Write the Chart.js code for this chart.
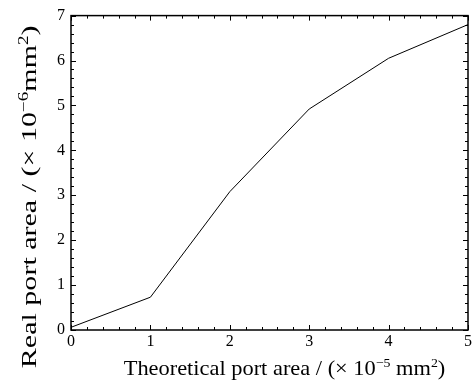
<!DOCTYPE html>
<html>
<head>
<meta charset="utf-8">
<script src="https://cdn.jsdelivr.net/npm/chart.js@4"></script>
<style>
  html, body { margin: 0; padding: 0; background: #fff; }
  #wrap { width: 475px; height: 388px; }
</style>
</head>
<body>
<div id="wrap"><canvas id="portChart" width="475" height="388"></canvas></div>
<script>
// data
const theoreticalArea = [0, 1, 2, 3, 4, 5];
const realArea = [0.06, 0.73, 3.08, 4.92, 6.05, 6.8];
const xTicks = [0, 1, 2, 3, 4, 5];
const yTicks = [0, 1, 2, 3, 4, 5, 6, 7];

// axis titles as [text, isSuperscript] pieces
const xTitle = [['Theoretical port area / (\u00d7 10', false], ['\u22125', true], [' mm', false], ['2', true], [')', false]];
const yTitle = [['Real port area / (\u00d7 10', false], ['\u22126', true], ['mm', false], ['2', true], [')', false]];

const serif = "'Liberation Serif', 'Times New Roman', serif";

// draw a title made of normal and superscript pieces
function drawPieces(c, pieces, size, startX, baseY) {
    let x = startX;
    pieces.forEach(p => {
        const fs = p[1] ? Math.round(size * 0.62) : size;
        c.font = fs + 'px ' + serif;
        c.fillText(p[0], x, p[1] ? baseY - size * 0.38 : baseY);
        x += c.measureText(p[0]).width;
    });
}
function piecesWidth(c, pieces, size) {
    let w = 0;
    pieces.forEach(p => {
        c.font = (p[1] ? Math.round(size * 0.62) : size) + 'px ' + serif;
        w += c.measureText(p[0]).width;
    });
    return w;
}

// inward ticks on all four sides, major every 1, minor every 0.2, plus titles
const boxTicks = {
    id: 'boxTicks',
    afterDraw(chart) {
        const c = chart.ctx;
        const a = chart.chartArea;
        const xs = chart.scales.x;
        const ys = chart.scales.y;
        c.save();
        c.strokeStyle = '#000';
        c.lineWidth = 1;
        c.beginPath();
        for (let i = 0; i <= 25; i++) {
            const v = i / 5;
            const len = (i % 5 === 0) ? 5 : 3;
            const px = Math.round(xs.getPixelForValue(v)) + 0.5;
            c.moveTo(px, a.bottom); c.lineTo(px, a.bottom - len);
            c.moveTo(px, a.top); c.lineTo(px, a.top + len);
        }
        for (let i = 0; i <= 35; i++) {
            const v = i / 5;
            const len = (i % 5 === 0) ? 5 : 3;
            const py = Math.round(ys.getPixelForValue(v)) + 0.5;
            c.moveTo(a.left, py); c.lineTo(a.left + len, py);
            c.moveTo(a.right, py); c.lineTo(a.right - len, py);
        }
        c.stroke();
        c.lineWidth = 1.5;
        c.strokeRect(a.left, a.top, a.right - a.left, a.bottom - a.top);

        // titles (the source figure is slightly stretched along the text)
        c.fillStyle = '#000';
        c.textAlign = 'left';
        c.textBaseline = 'alphabetic';

        const xsz = 21;
        const xw = piecesWidth(c, xTitle, xsz);
        const xLen = (a.right - a.left) * 0.81;
        const xc = (a.left + a.right) / 2 + 15;
        c.save();
        c.translate(xc, a.bottom + 45);
        c.scale(xLen / xw, 1);
        drawPieces(c, xTitle, xsz, -xw / 2, 0);
        c.restore();

        const ysz = 22;
        const yw = piecesWidth(c, yTitle, ysz);
        const yLen = (a.bottom - a.top) * 1.09;
        const yc = (a.top + a.bottom) / 2 + 24;
        c.translate(a.left - 35, yc);
        c.rotate(-Math.PI / 2);
        c.scale(yLen / yw, 1);
        drawPieces(c, yTitle, ysz, -yw / 2, 0);
        c.restore();
    }
};

const ctx = document.getElementById('portChart').getContext('2d');
new Chart(ctx, {
    type: 'line',
    data: {
        datasets: [{
            data: theoreticalArea.map((x, i) => ({ x: x, y: realArea[i] })),
            borderColor: '#000',
            borderWidth: 1,
            pointRadius: 0,
            fill: false,
            tension: 0
        }]
    },
    options: {
        responsive: false,
        animation: false,
        layout: { padding: { top: 14, right: 7, left: 0, bottom: 0 } },
        plugins: { legend: { display: false }, tooltip: { enabled: false } },
        scales: {
            x: {
                type: 'linear',
                min: 0, max: 5,
                afterBuildTicks: s => { s.ticks = xTicks.map(v => ({ value: v })); },
                afterFit: s => { s.height = 58; },
                grid: { drawOnChartArea: false, drawTicks: false },
                border: { display: false },
                ticks: { color: '#000', font: { family: serif, size: 16 }, padding: 2, maxRotation: 0 }
            },
            y: {
                type: 'linear',
                min: 0, max: 7,
                afterBuildTicks: s => { s.ticks = yTicks.map(v => ({ value: v })); },
                afterFit: s => { s.width = 71; },
                grid: { drawOnChartArea: false, drawTicks: false },
                border: { display: false },
                ticks: { color: '#000', font: { family: serif, size: 16 }, padding: 6 }
            }
        }
    },
    plugins: [boxTicks]
});
</script>
</body>
</html>
